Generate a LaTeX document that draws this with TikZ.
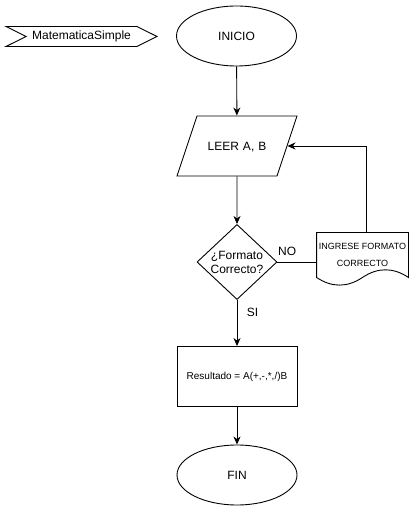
\documentclass[tikz,border=0pt]{standalone}
\usepackage{fontspec}
\setmainfont{Liberation Sans}
\usepackage{tikz}
\usetikzlibrary{arrows.meta, positioning, shapes.geometric, shapes.symbols, calc}

\begin{document}
\begin{tikzpicture}[x=1pt, y=1pt, line width=0.9pt, font=\fontsize{12}{14}\selectfont,
            terminal/.style={draw, ellipse, minimum width=120pt, minimum height=60pt, inner sep=0pt},
            io/.style={draw, trapezium, trapezium left angle=71.565, trapezium right angle=108.435,
                text width=80pt, align=center, text height=8.6pt, text depth=0pt,
                inner xsep=0pt, inner ysep=25.7pt},
            decision/.style={draw, diamond, minimum width=80pt, minimum height=70pt, inner sep=0pt, align=center},
            process/.style={draw, minimum width=120pt, minimum height=60pt, inner sep=0pt, font=\fontsize{10}{12}\selectfont},
            docbox/.style={minimum width=91pt, minimum height=44pt, inner sep=0pt, align=center, font=\fontsize{9}{17}\selectfont},
            tagbox/.style={draw, signal, signal from=west, signal to=east, signal pointer angle=53,
                minimum width=151pt, minimum height=20pt, inner sep=0pt, font=\fontsize{12}{14}\selectfont},
            flow/.style={-{Stealth[length=8pt, width=7pt, inset=2.5pt]}}]

            \useasboundingbox (0,0) rectangle (413,514);

            % Program name
            \node[tagbox] (name) at (81.5,477.5) {MatematicaSimple};

            % Flowchart column
            \node[terminal] (start) at (236.5,478) {INICIO};
            \node[io] (read) at (237,368) {LEER A, B};
            \node[decision] (check) at (237,252) {¿Formato\\Correcto?};
            \node[process] (calc) at (237,137.5) {Resultado = A(+,-,*,/)B};
            \node[terminal] (end) at (237,39) {FIN};

            % Error message (document)
            \node[docbox] (msg) at (362.5,259) {INGRESE FORMATO\\CORRECTO};
            \draw (msg.north west) -- (msg.north east) -- (msg.south east)
                .. controls +(-15.2,10.2) and +(15.2,10.2) .. (msg.south)
                .. controls +(-15.2,-10.2) and +(15.2,-10.2) .. (msg.south west) -- cycle;

            % Connectors
            \draw[flow] (start) -- (read);
            \draw[flow] (read) -- (check);
            \draw (check.east) -- (check.east -| msg.west) node[pos=0.25, above=3pt] {NO};
            \draw[flow] ([xshift=3.5pt]msg.north) |- (read.east);
            \draw[flow] (check.south) -- (calc.north) node[pos=0.27, right=6pt] {SI};
            \draw[flow] (calc) -- (end);
        \end{tikzpicture}
\end{document}
